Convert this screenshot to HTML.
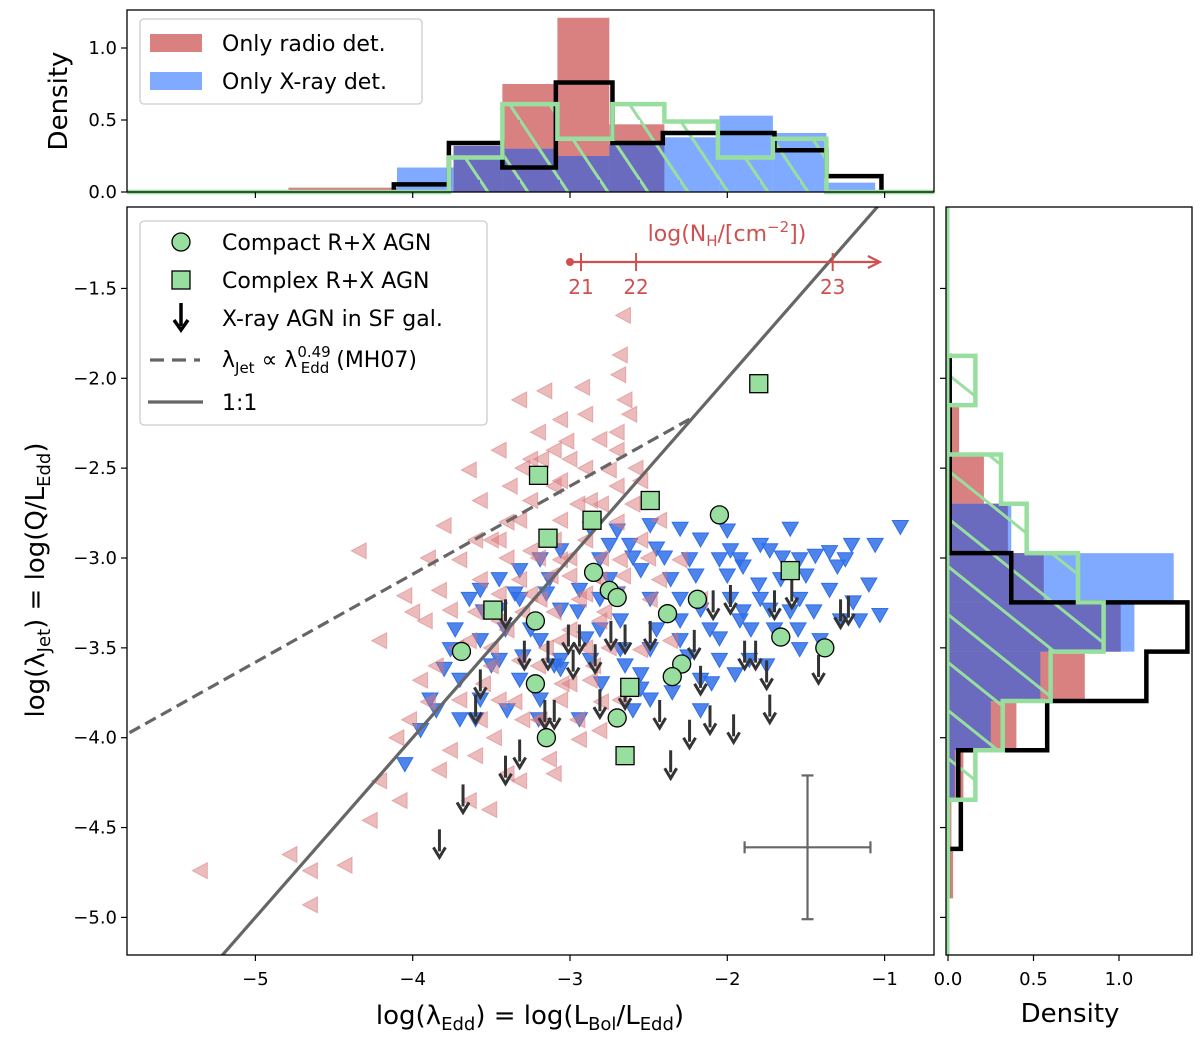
<!DOCTYPE html>
<html><head><meta charset="utf-8"><style>
body{margin:0;background:#fff}
svg{display:block;font-family:"DejaVu Sans","Liberation Sans",sans-serif}
</style></head><body>
<svg id="fig" width="1200" height="1037" viewBox="0 0 1200 1037" xmlns="http://www.w3.org/2000/svg">
<defs>
<clipPath id="clipMain"><rect x="127" y="207" width="807" height="748"/></clipPath>
<pattern id="hatchTop" patternUnits="userSpaceOnUse" width="40" height="60">
<line x1="-20" y1="-30" x2="60" y2="90" stroke="#98df9f" stroke-width="3"/>
<line x1="-60" y1="-30" x2="20" y2="90" stroke="#98df9f" stroke-width="3"/>
</pattern>
<pattern id="hatchRight" patternUnits="userSpaceOnUse" width="60" height="48">
<line x1="-30" y1="-24" x2="90" y2="72" stroke="#98df9f" stroke-width="3"/>
<line x1="-30" y1="24" x2="90" y2="120" stroke="#98df9f" stroke-width="3"/>
<line x1="-30" y1="-72" x2="90" y2="24" stroke="#98df9f" stroke-width="3"/>
</pattern>
</defs>
<g id="gtop"></g>
<g id="gright"></g>
<g id="gmain"></g>
</svg>
<script>
// ---------- data ----------
const pinkX=[-2.66,-2.68,-2.69,-2.65,-3.16,-3.32,-3.06,-2.81,-3.45,-3.25,-3.64,-3.06,-3.57,-3.80,-3.32,-4.34,-4.05,-3.92,-4.21,-3.95,-4.02,-3.76,-3.83,-4.21,-4.08,-4.27,-4.78,-4.65,-5.35,-4.43,-4.65,-3.64,-3.51,-3.32,-3.13,-2.94,-2.81,-3.57,-3.45,-3.32,-3.19,-3.06,-2.94,-2.81,-2.68,-2.55,-2.43,-2.30,-2.49,-2.36,-2.87,-3.06,-3.19,-3.45,-3.64,-3.76,-3.25,-3.06,-2.87,-2.75,-2.55,-3.00,-3.25,-3.45,-3.70,-3.83,-3.57,-3.70,-2.55,-2.68,-2.43,-2.17,-2.81,-3.06,-3.32,-3.1,-2.9,-3.0,-3.2,-2.9,-3.4,-3.5,-2.7,-2.6,-3.0,-3.3,-2.8,-3.6,-3.9,-2.7,-3.1,-3.4,-3.9,-4.1,-3.2,-2.9,-2.7,-2.5,
-3.5,-3.4,-3.3,-3.2,-3.1,-3.0,-2.9,-2.8,-2.7,-3.55,-3.45,-3.35,-3.15,-3.05,-2.95,-2.85,-2.75,-3.6,-3.3,-3.1,-2.9,-2.7,-3.5,-3.2,-3.0,-2.8,-3.4,-3.1,-2.85,-3.25,-2.95,-3.38,-3.12,-2.78,-3.48,-2.66,-3.72,-3.85,-4.0,-3.6,-2.62,-2.58,-3.02,-3.18,-2.92];
const pinkY=[-1.65,-1.87,-1.98,-2.12,-2.07,-2.12,-2.23,-2.34,-2.40,-2.45,-2.51,-2.57,-2.68,-2.82,-2.79,-2.96,-3.21,-3.35,-3.46,-3.68,-3.90,-4.07,-4.18,-4.24,-4.35,-4.46,-4.65,-4.74,-4.74,-4.71,-4.93,-4.35,-4.40,-4.24,-4.12,-4.01,-3.96,-3.12,-3.35,-3.57,-3.23,-3.46,-3.23,-3.12,-3.01,-2.90,-2.79,-3.01,-3.23,-3.46,-3.68,-3.79,-3.90,-3.79,-3.46,-3.29,-2.96,-2.79,-2.68,-2.51,-2.57,-2.45,-2.68,-2.90,-3.01,-3.18,-3.90,-3.79,-3.51,-3.79,-3.12,-3.23,-3.35,-3.01,-3.12,-2.6,-2.9,-3.1,-3.6,-3.5,-3.0,-3.5,-2.6,-2.7,-3.7,-3.9,-3.0,-3.3,-3.0,-3.2,-4.2,-4.2,-3.8,-4.0,-2.3,-2.2,-2.3,-3.0,
-2.9,-2.8,-3.3,-3.0,-3.3,-3.4,-3.2,-2.7,-2.8,-3.7,-3.2,-3.8,-3.5,-3.7,-3.9,-3.6,-3.5,-2.9,-2.5,-2.4,-2.5,-2.4,-3.6,-3.9,-3.0,-3.8,-3.4,-2.9,-3.1,-3.2,-2.7,-2.6,-3.1,-3.3,-4.0,-3.1,-3.5,-3.6,-3.3,-4.1,-2.2,-2.5,-2.35,-2.45,-2.05];
const blueX=[-0.90,-1.06,-1.21,-1.35,-1.44,-1.73,-1.79,-1.92,-2.05,-2.17,-2.30,-2.49,-2.62,-2.75,-2.87,-2.81,-3.06,-3.19,-3.32,-3.45,-3.57,-3.64,-3.73,-3.76,-3.80,-3.89,-3.95,-4.05,-3.41,-3.19,-3.06,-2.87,-2.68,-2.49,-2.30,-2.11,-1.92,-1.73,-1.54,-1.35,-1.16,-1.03,-1.54,-1.66,-1.79,-1.98,-2.17,-2.36,-2.55,-2.75,-2.94,-3.13,-3.32,-3.45,-3.57,-3.45,-3.32,-3.19,-3.06,-2.81,-2.49,-2.17,-2.05,-1.86,-1.54,-1.41,-1.28,-3.70,-3.57,-2.68,-2.30,-1.98,-1.60,-1.25,-2.24,-2.49,-2.81,-3.06,-3.25,-2.17,-2.55,-2.94,-3.70,
-3.55,-3.35,-3.15,-2.95,-2.7,-2.6,-2.4,-2.2,-2.0,-1.9,-1.8,-1.65,-1.5,-1.3,-1.1,-3.5,-3.3,-3.1,-2.9,-2.65,-2.45,-2.25,-2.05,-1.85,-1.7,-1.45,-1.2,-3.6,-3.4,-3.2,-2.8,-2.6,-2.35,-2.1,-1.95,-1.75,-1.55,-3.85,-2.7,-2.45,-2.0,-1.9,-2.3,-2.55,-1.6];
const blueY=[-2.83,-2.93,-2.93,-2.97,-2.99,-2.96,-2.93,-3.01,-3.01,-2.90,-2.84,-2.82,-2.93,-2.93,-2.84,-3.01,-2.96,-3.01,-3.07,-3.12,-3.18,-3.23,-3.40,-3.51,-3.62,-3.79,-3.96,-4.15,-3.40,-3.46,-3.57,-3.57,-3.51,-3.51,-3.46,-3.40,-3.35,-3.29,-3.23,-3.18,-3.35,-3.32,-3.01,-3.12,-3.23,-3.23,-3.29,-3.12,-3.07,-3.12,-3.18,-3.12,-3.23,-3.29,-3.46,-3.57,-3.68,-3.79,-3.62,-3.23,-3.79,-3.68,-3.57,-3.57,-3.51,-3.46,-3.35,-3.68,-3.79,-3.35,-3.23,-2.96,-2.84,-3.01,-3.01,-3.23,-3.40,-3.29,-3.40,-3.85,-3.73,-3.90,-3.90,
-3.3,-3.2,-3.2,-3.3,-3.2,-3.0,-3.0,-3.1,-3.1,-3.05,-3.15,-3.0,-3.1,-3.05,-3.15,-3.6,-3.55,-3.6,-3.45,-3.6,-3.4,-3.55,-3.45,-3.4,-3.4,-3.3,-3.25,-3.9,-3.85,-3.9,-3.7,-3.85,-3.75,-3.7,-3.65,-3.6,-3.4,-3.85,-2.85,-2.95,-2.85,-3.3,-3.35,-3.65,-3.3];
const arrowX=[-3.83,-3.68,-3.60,-3.41,-3.41,-3.29,-3.14,-3.10,-3.01,-2.98,-2.94,-2.84,-2.81,-2.74,-2.65,-2.65,-2.49,-2.43,-2.36,-2.24,-2.21,-2.17,-2.11,-2.09,-1.98,-1.96,-1.89,-1.82,-1.75,-1.73,-1.70,-1.59,-1.42,-1.28,-1.23,-3.32,-3.57,-3.16];
const arrowY=[-4.51,-4.26,-3.76,-4.10,-3.23,-3.46,-3.46,-3.79,-3.37,-3.51,-3.37,-3.48,-3.73,-3.35,-3.37,-3.68,-3.35,-3.79,-4.07,-3.90,-3.40,-3.60,-3.82,-3.18,-3.15,-3.87,-3.46,-3.46,-3.57,-3.76,-3.18,-3.12,-3.54,-3.23,-3.21,-4.01,-3.62,-3.79];
const compactX=[-3.69,-3.22,-3.22,-3.15,-2.85,-2.75,-2.70,-2.38,-2.29,-2.35,-2.70,-2.19,-2.05,-1.66,-1.38];
const compactY=[-3.52,-3.35,-3.70,-4.00,-3.08,-3.18,-3.22,-3.31,-3.59,-3.66,-3.89,-3.23,-2.76,-3.44,-3.50];
const complexX=[-1.80,-3.20,-3.14,-2.86,-2.49,-3.49,-2.62,-2.65,-1.60];
const complexY=[-2.03,-2.54,-2.89,-2.79,-2.68,-3.29,-3.72,-4.10,-3.07];
const jetSlope=0.49, jetIntercept=-1.13, jetEnd=-2.24;
const errX=-1.49, errY=-4.61, errDx=0.40, errDy=0.40;
const nhTicks=[21,22,23], nhPos=[-2.93,-2.58,-1.33], nhStart=-3.0, nhEnd=-1.03;
const xTicks=[-5,-4,-3,-2,-1];
const xTickLabels=["\u22125","\u22124","\u22123","\u22122","\u22121"];
const yTicks=[-1.5,-2,-2.5,-3,-3.5,-4,-4.5,-5];
const yTickLabels=["\u22121.5","\u22122.0","\u22122.5","\u22123.0","\u22123.5","\u22124.0","\u22124.5","\u22125.0"];
const topPinkEdges=[-4.79,-4.10,-3.74,-3.43,-3.08,-2.75,-2.40];
const topPinkVals=[0.03,0.01,0.32,0.75,1.21,0.47];
const topBlueEdges=[-4.10,-3.74,-3.43,-3.08,-2.75,-2.40,-2.05,-1.71,-1.37,-1.06];
const topBlueVals=[0.17,0.32,0.30,0.25,0.33,0.38,0.53,0.41,0.065];
const topBlackEdges=[-4.12,-3.77,-3.43,-3.09,-2.73,-2.41,-2.05,-1.70,-1.37,-1.02];
const topBlackVals=[0.053,0.34,0.17,0.76,0.34,0.41,0.41,0.29,0.11];
const topGreenEdges=[-3.77,-3.43,-3.08,-2.73,-2.40,-2.06,-1.71,-1.37];
const topGreenVals=[0.24,0.61,0.37,0.61,0.49,0.24,0.37];
const rEdges=[-1.875,-2.149,-2.424,-2.698,-2.973,-3.247,-3.521,-3.796,-4.070,-4.345,-4.619,-4.894];
const rPink=[0,0.065,0.21,0.35,0.56,1.01,0.80,0.40,0.09,0.02,0.03];
const rBlue=[0,0,0,0.37,1.32,1.09,0.54,0.25,0.04,0,0];
const rBlack=[0.01,0.01,0.01,0.01,0.37,1.40,1.16,0.58,0.06,0.075,0];
const rGreen=[0.16,0,0.31,0.46,0.76,0.91,0.60,0.32,0.16,0,0];

const X=v=>570+(v+3)*157.3;
const Y=v=>558-(v+3)*179.7;
const HY=d=>192-d*144;
const HX=d=>948+d*171;
const NS="http://www.w3.org/2000/svg";
function mk(parent,tag,attrs,text){const e=document.createElementNS(NS,tag);for(const k in attrs)e.setAttribute(k,attrs[k]);if(text!==undefined)e.textContent=text;parent.appendChild(e);return e;}
const gTop=document.getElementById('gtop'),gRight=document.getElementById('gright'),gMain=document.getElementById('gmain');
const PINK="#d98080",BLUE="#80aaff",PURP="#6a6abf",GREEN="#98df9f";

function vbars(edges,vals,fill,name){for(let i=0;i<vals.length;i++){if(vals[i]<=0)continue;const r=mk(gTop,'rect',{x:X(edges[i]),y:HY(vals[i]),width:X(edges[i+1])-X(edges[i]),height:HY(0)-HY(vals[i]),fill:fill});

}}
vbars(topPinkEdges,topPinkVals,PINK,'top-radio-bar');
vbars(topBlueEdges,topBlueVals,BLUE,'top-xray-bar');
for(let i=0;i<topBlueVals.length;i++){const j=topPinkEdges.findIndex(e=>Math.abs(e-topBlueEdges[i])<0.02);if(j<0||j>=topPinkVals.length)continue;const m=Math.min(topPinkVals[j],topBlueVals[i]);if(m<=0.02)continue;
const r=mk(gTop,'rect',{x:X(topBlueEdges[i]),y:HY(m),width:X(topBlueEdges[i+1])-X(topBlueEdges[i]),height:HY(0)-HY(m),fill:PURP});

}
function stepPathV(edges,vals,x0,x1){let d=`M${x0},${HY(0)} L${X(edges[0])},${HY(0)}`;for(let i=0;i<vals.length;i++){d+=` L${X(edges[i])},${HY(vals[i])} L${X(edges[i+1])},${HY(vals[i])}`;}d+=` L${X(edges[edges.length-1])},${HY(0)} L${x1},${HY(0)}`;return d;}
let gp=stepPathV(topGreenEdges,topGreenVals,127,934);
const th=mk(gTop,'path',{d:gp+' Z',fill:'url(#hatchTop)',stroke:'none'});


const tb=mk(gTop,'path',{d:stepPathV(topBlackEdges,topBlackVals,X(topBlackEdges[0]),X(topBlackEdges[topBlackEdges.length-1])),fill:'none',stroke:'#000','stroke-width':4.5});


const tg=mk(gTop,'path',{d:gp,fill:'none',stroke:GREEN,'stroke-width':4.5});


mk(gTop,'rect',{x:127,y:10,width:807,height:182,fill:'none',stroke:'#000','stroke-width':1.3});
[0,0.5,1.0].forEach((v,i)=>{mk(gTop,'line',{x1:121,x2:127,y1:HY(v),y2:HY(v),stroke:'#000','stroke-width':1.2});
const t=mk(gTop,'text',{x:117,y:HY(v)+6,'text-anchor':'end','font-size':18},["0.0","0.5","1.0"][i]);

});
xTicks.forEach(v=>mk(gTop,'line',{x1:X(v),x2:X(v),y1:192,y2:198,stroke:'#000','stroke-width':1.2}));
const tyl=mk(gTop,'text',{x:67,y:101,'text-anchor':'middle','font-size':26,transform:'rotate(-90 67 101)'},'Density');


const tl=mk(gTop,'g',{});


mk(tl,'rect',{x:140,y:19,width:282,height:85,rx:4,fill:'#fff',stroke:'#ccc','stroke-width':1.3});
mk(tl,'rect',{x:150,y:34,width:52,height:18,fill:PINK});
mk(tl,'text',{x:222,y:51,'font-size':22},'Only radio det.');
mk(tl,'rect',{x:150,y:72,width:52,height:18,fill:BLUE});
mk(tl,'text',{x:222,y:89,'font-size':22},'Only X-ray det.');

function hbars(vals,fill,name){for(let i=0;i<vals.length;i++){if(vals[i]<=0)continue;const r=mk(gRight,'rect',{x:HX(0),y:Y(rEdges[i]),width:HX(vals[i])-HX(0),height:Y(rEdges[i+1])-Y(rEdges[i]),fill:fill});

}}
hbars(rPink,PINK,'right-radio-bar');
hbars(rBlue,BLUE,'right-xray-bar');
hbars(rPink.map((p,i)=>Math.min(p,rBlue[i])),PURP,'right-overlap-bar');
function stepPathH(vals){let d=`M${HX(0)},${Y(rEdges[0])}`;for(let i=0;i<vals.length;i++){d+=` L${HX(vals[i])},${Y(rEdges[i])} L${HX(vals[i])},${Y(rEdges[i+1])}`;}d+=` L${HX(0)},${Y(rEdges[rEdges.length-1])}`;return d;}
const rg=stepPathH(rGreen);
const rh=mk(gRight,'path',{d:rg+' Z',fill:'url(#hatchRight)'});


const rb=mk(gRight,'path',{d:stepPathH(rBlack),fill:'none',stroke:'#000','stroke-width':4.5});


const rgp=mk(gRight,'path',{d:rg,fill:'none',stroke:GREEN,'stroke-width':4.5});


mk(gRight,'line',{x1:HX(0),x2:HX(0),y1:207,y2:955,stroke:GREEN,'stroke-width':3});
mk(gRight,'rect',{x:946,y:207,width:246,height:748,fill:'none',stroke:'#000','stroke-width':1.3});
yTicks.forEach(v=>mk(gRight,'line',{x1:940,x2:946,y1:Y(v),y2:Y(v),stroke:'#000','stroke-width':1.2}));
[0,0.5,1.0].forEach((v,i)=>{mk(gRight,'line',{x1:HX(v),x2:HX(v),y1:955,y2:961,stroke:'#000','stroke-width':1.2});
const t=mk(gRight,'text',{x:HX(v),y:985,'text-anchor':'middle','font-size':18},["0.0","0.5","1.0"][i]);

});
const rxl=mk(gRight,'text',{x:1070,y:1022,'text-anchor':'middle','font-size':26},'Density');



const plot=mk(gMain,'g',{'clip-path':'url(#clipMain)'});


for(let i=0;i<blueX.length;i++){const x=X(blueX[i]),y=Y(blueY[i]);const p=mk(plot,'path',{d:`M${x-8},${y-7} L${x+8},${y-7} L${x},${y+7} Z`,fill:'#2f6fe8','fill-opacity':0.85,stroke:'#2f6fe8','stroke-width':1});

}
for(let i=0;i<pinkX.length;i++){const x=X(pinkX[i]),y=Y(pinkY[i]);const p=mk(plot,'path',{d:`M${x-8},${y} L${x+7},${y-8} L${x+7},${y+8} Z`,fill:'#d9777a','fill-opacity':0.5,stroke:'#d9777a','stroke-opacity':0.5,'stroke-width':1});

}
const l11=mk(plot,'line',{x1:X(-5.3),y1:Y(-5.3),x2:X(-1.0),y2:Y(-1.0),stroke:'#666','stroke-width':3.2});


const jl=mk(plot,'line',{x1:X(-5.9),y1:Y(jetSlope*-5.9+jetIntercept),x2:X(jetEnd),y2:Y(jetSlope*jetEnd+jetIntercept),stroke:'#666','stroke-width':3.2,'stroke-dasharray':'12 6'});


for(let i=0;i<arrowX.length;i++){const x=X(arrowX[i]),y=Y(arrowY[i]);const g=mk(plot,'g',{});


mk(g,'line',{x1:x,y1:y,x2:x,y2:y+22,stroke:'#333','stroke-width':3});
mk(g,'path',{d:`M${x-6},${y+18} L${x},${y+28} L${x+6},${y+18}`,fill:'none',stroke:'#333','stroke-width':3});}
for(let i=0;i<compactX.length;i++){const c=mk(plot,'circle',{cx:X(compactX[i]),cy:Y(compactY[i]),r:9,fill:GREEN,stroke:'#000','stroke-width':1.3});

}
for(let i=0;i<complexX.length;i++){const s=mk(plot,'rect',{x:X(complexX[i])-9,y:Y(complexY[i])-9,width:18,height:18,fill:GREEN,stroke:'#000','stroke-width':1.3});

}
const eb=mk(gMain,'g',{stroke:'#666','stroke-width':2.2});


mk(eb,'line',{x1:X(errX-errDx),x2:X(errX+errDx),y1:Y(errY),y2:Y(errY)});
mk(eb,'line',{x1:X(errX),x2:X(errX),y1:Y(errY+errDy),y2:Y(errY-errDy)});
mk(eb,'line',{x1:X(errX-errDx),x2:X(errX-errDx),y1:Y(errY)-6,y2:Y(errY)+6});
mk(eb,'line',{x1:X(errX+errDx),x2:X(errX+errDx),y1:Y(errY)-6,y2:Y(errY)+6});
mk(eb,'line',{x1:X(errX)-6,x2:X(errX)+6,y1:Y(errY+errDy),y2:Y(errY+errDy)});
mk(eb,'line',{x1:X(errX)-6,x2:X(errX)+6,y1:Y(errY-errDy),y2:Y(errY-errDy)});
const nh=mk(gMain,'g',{});


const RED="#d05050";
mk(nh,'line',{x1:X(nhStart),x2:X(nhEnd)-2,y1:262,y2:262,stroke:RED,'stroke-width':2.2});
mk(nh,'path',{d:`M${X(nhEnd)-12},256 L${X(nhEnd)},262 L${X(nhEnd)-12},268`,fill:'none',stroke:RED,'stroke-width':2.2});
mk(nh,'circle',{cx:X(nhStart),cy:262,r:4,fill:RED});
nhTicks.forEach((t,i)=>{mk(nh,'line',{x1:X(nhPos[i]),x2:X(nhPos[i]),y1:253,y2:271,stroke:RED,'stroke-width':2});
mk(nh,'text',{x:X(nhPos[i]),y:294,'text-anchor':'middle','font-size':20,fill:RED},String(t));});
const nt=mk(nh,'text',{x:727,y:241,'text-anchor':'middle','font-size':22,fill:RED});
nt.innerHTML='log(N<tspan dy="5" font-size="15">H</tspan><tspan dy="-5">/[cm</tspan><tspan dy="-9" font-size="15">\u22122</tspan><tspan dy="9">])</tspan>';
mk(gMain,'rect',{x:127,y:207,width:807,height:748,fill:'none',stroke:'#000','stroke-width':1.3});
xTicks.forEach((v,i)=>{mk(gMain,'line',{x1:X(v),x2:X(v),y1:955,y2:961,stroke:'#000','stroke-width':1.2});
const t=mk(gMain,'text',{x:X(v),y:985,'text-anchor':'middle','font-size':18},xTickLabels[i]);

});
yTicks.forEach((v,i)=>{mk(gMain,'line',{x1:121,x2:127,y1:Y(v),y2:Y(v),stroke:'#000','stroke-width':1.2});
const t=mk(gMain,'text',{x:117,y:Y(v)+6,'text-anchor':'end','font-size':18},yTickLabels[i]);

});
const xl=mk(gMain,'text',{x:530,y:1024,'text-anchor':'middle','font-size':26});
xl.innerHTML='log(\u03bb<tspan dy="6" font-size="18">Edd</tspan><tspan dy="-6">) = log(L</tspan><tspan dy="6" font-size="18">Bol</tspan><tspan dy="-6">/L</tspan><tspan dy="6" font-size="18">Edd</tspan><tspan dy="-6">)</tspan>';


const yl=mk(gMain,'text',{x:44,y:580,'text-anchor':'middle','font-size':26,transform:'rotate(-90 44 580)'});
yl.innerHTML='log(\u03bb<tspan dy="6" font-size="18">Jet</tspan><tspan dy="-6">) = log(Q/L</tspan><tspan dy="6" font-size="18">Edd</tspan><tspan dy="-6">)</tspan>';


const lg=mk(gMain,'g',{});


mk(lg,'rect',{x:140,y:221,width:347,height:204,rx:4,fill:'#fff','fill-opacity':0.9,stroke:'#ccc','stroke-width':1.3});
mk(lg,'circle',{cx:181,cy:242,r:9,fill:GREEN,stroke:'#000','stroke-width':1.3});
mk(lg,'text',{x:222,y:250,'font-size':22},'Compact R+X AGN');
mk(lg,'rect',{x:172,y:271,width:18,height:18,fill:GREEN,stroke:'#000','stroke-width':1.3});
mk(lg,'text',{x:222,y:288,'font-size':22},'Complex R+X AGN');
mk(lg,'line',{x1:181,x2:181,y1:303,y2:326,stroke:'#000','stroke-width':3.5});
mk(lg,'path',{d:'M174,320 L181,330 L188,320',fill:'none',stroke:'#000','stroke-width':3.5});
mk(lg,'text',{x:222,y:326,'font-size':22},'X-ray AGN in SF gal.');
mk(lg,'line',{x1:150,x2:200,y1:360,y2:360,stroke:'#666','stroke-width':3.2,'stroke-dasharray':'14 8'});
const lt=mk(lg,'text',{x:222,y:367,'font-size':22});
lt.innerHTML='\u03bb<tspan dy="6" font-size="15">Jet</tspan><tspan dy="-6"> \u221d \u03bb</tspan><tspan dy="-10" font-size="15">0.49</tspan><tspan dx="-30" dy="16" font-size="15">Edd</tspan><tspan dy="-6"> (MH07)</tspan>';
mk(lg,'line',{x1:148,x2:203,y1:402,y2:402,stroke:'#666','stroke-width':3.2});
mk(lg,'text',{x:222,y:410,'font-size':22},'1:1');
</script>
</body></html>
